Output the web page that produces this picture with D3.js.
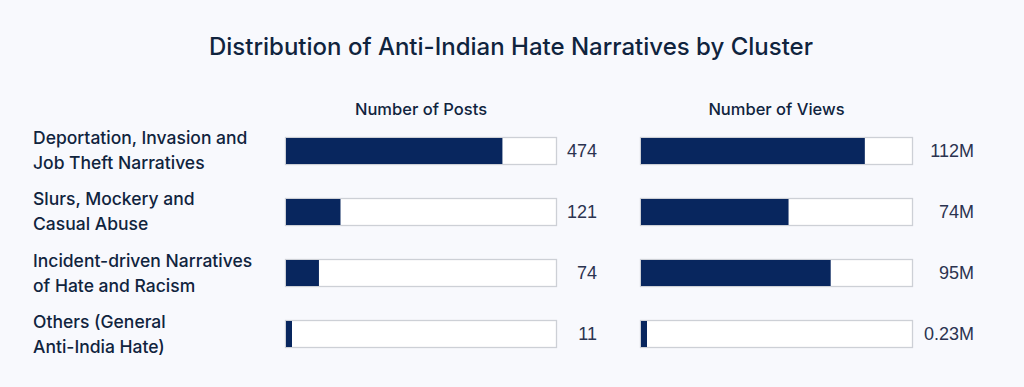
<!DOCTYPE html>
<html>
<head>
<meta charset="utf-8">
<script src="https://cdn.jsdelivr.net/npm/d3@7"></script>
<style>
  html, body { margin: 0; padding: 0; background: #f8f9fd; }
  svg { display: block; }
  .title { font-family: Inter, Roboto, sans-serif; font-size: 24px; font-weight: 500; fill: #10243e; }
  .header { font-family: Inter, Roboto, sans-serif; font-size: 16.5px; font-weight: 500; fill: #10243e; }
  .cat { font-family: Inter, Roboto, sans-serif; font-size: 17.5px; font-weight: 500; fill: #10243e; }
  .val { font-family: "Liberation Sans", Arial, sans-serif; font-size: 18px; fill: #2b3350; }
</style>
</head>
<body>
<svg id="chart"></svg>
<script>
var categories = [
  ["Deportation, Invasion and", "Job Theft Narratives"],
  ["Slurs, Mockery and", "Casual Abuse"],
  ["Incident-driven Narratives", "of Hate and Racism"],
  ["Others (General", "Anti-India Hate)"]
];
var posts = [474, 121, 74, 11];
var postLabels = ["474", "121", "74", "11"];
var views = [112, 74, 95, 0.23];          // millions
var viewLabels = ["112M", "74M", "95M", "0.23M"];

var width = 1024, height = 387;

var svg = d3.select("#chart")
  .attr("width", width)
  .attr("height", height);

svg.append("text")
  .attr("class", "title")
  .attr("x", 511)
  .attr("y", 55)
  .attr("text-anchor", "middle")
  .text("Distribution of Anti-Indian Hate Narratives by Cluster");

var y = d3.scaleBand()
  .domain(d3.range(categories.length))
  .range([137, 348])
  .paddingInner(0.541)
  .paddingOuter(0);

// category labels
var cats = svg.append("g").selectAll("text")
  .data(categories)
  .enter()
  .append("text")
  .attr("class", "cat")
  .attr("x", 33)
  .attr("y", (d, i) => y(i) + y.bandwidth() / 2 - 6.5);

cats.selectAll("tspan")
  .data(d => d)
  .enter()
  .append("tspan")
  .attr("x", 33)
  .attr("dy", (d, j) => j === 0 ? 0 : 25)
  .text(d => d);

function panel(values, labels, domainMax, x0, x1, labelRight, header) {
  var x = d3.scaleLinear().domain([0, domainMax]).range([x0, x1]);
  var g = svg.append("g");

  g.append("text")
    .attr("class", "header")
    .attr("x", (x0 + x1) / 2)
    .attr("y", 115)
    .attr("text-anchor", "middle")
    .text(header);

  g.selectAll(".track")
    .data(values)
    .enter()
    .append("rect")
    .attr("class", "track")
    .attr("x", x0 + 0.5)
    .attr("y", (d, i) => y(i) + 0.5)
    .attr("width", x1 - x0 - 1)
    .attr("height", y.bandwidth() - 1)
    .attr("fill", "#fff")
    .attr("stroke", "#cdd0d6")
    .attr("stroke-width", 1.3);

  g.selectAll(".fill")
    .data(values)
    .enter()
    .append("rect")
    .attr("class", "fill")
    .attr("x", x0 + 1)
    .attr("y", (d, i) => y(i) + 1)
    .attr("width", d => Math.max(6, x(d) - x0 - 1))
    .attr("height", y.bandwidth() - 2)
    .attr("fill", "#08265e");

  g.selectAll(".val")
    .data(labels)
    .enter()
    .append("text")
    .attr("class", "val")
    .attr("x", labelRight)
    .attr("y", (d, i) => y(i) + y.bandwidth() / 2)
    .attr("dy", "0.36em")
    .attr("text-anchor", "end")
    .text(d => d);
}

panel(posts, postLabels, 593, 285, 557, 597, "Number of Posts");
panel(views, viewLabels, 136, 640, 913, 974, "Number of Views");
</script>
</body>
</html>
